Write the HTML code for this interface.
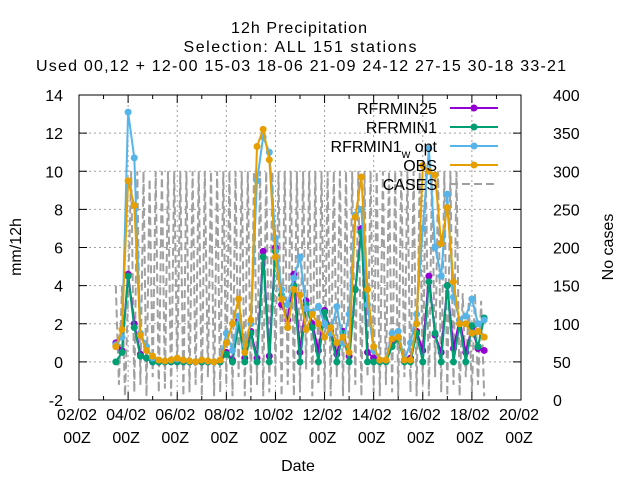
<!DOCTYPE html>
<html><head><meta charset="utf-8"><style>
body{margin:0;background:#fff}
svg{display:block;font-family:"Liberation Sans","DejaVu Sans",sans-serif}
</style></head><body>
<svg id="chart" width="640" height="480" xmlns="http://www.w3.org/2000/svg">
<rect width="640" height="480" fill="#fff"/>
<text x="299" y="33" font-size="16" text-anchor="middle" textLength="136">12h Precipitation</text>
<text x="300" y="52" font-size="16" text-anchor="middle" textLength="233">Selection: ALL     151 stations</text>
<text x="301" y="71" font-size="16" text-anchor="middle" textLength="530">Used  00,12  + 12-00 15-03 18-06 21-09 24-12 27-15 30-18 33-21</text>
<g id="grid"></g>
<g id="cases"></g>
<g id="series"></g>
<g id="axes"></g>
<g id="legend"></g>
<text x="298" y="471" font-size="16" text-anchor="middle">Date</text>
<text transform="translate(21,247) rotate(-90)" font-size="16" text-anchor="middle">mm/12h</text>
<text transform="translate(613,247) rotate(-90)" font-size="16" text-anchor="middle">No cases</text>
</svg>
<script>
const xTickLabels = ["02/02","04/02","06/02","08/02","10/02","12/02","14/02","16/02","18/02","20/02"];
const yTicks = [-2,0,2,4,6,8,10,12,14];
const y2Ticks = [0,50,100,150,200,250,300,350,400];
// precipitation series sampled every 6h starting at offset 1.5 days after 02/02 00Z
const startOffset = 1.5;
const stepDays = 0.25;
const obs = [0.8,1.7,9.5,8.2,1.4,0.6,0.3,0.1,0.05,0.1,0.2,0.1,0.05,0.0,0.1,0.05,0.0,0.1,1.0,2.0,3.3,0.5,2.2,11.3,12.2,10.6,5.5,3.3,1.8,3.8,3.5,1.7,2.5,2.0,1.3,1.8,1.0,1.3,0.5,7.6,9.7,3.8,0.8,0.1,0.1,1.2,1.3,0.1,0.1,2.0,10.3,10.0,9.8,6.2,8.1,4.2,2.0,2.0,1.5,1.6,1.3];
const wopt = [0.9,1.3,13.1,10.7,1.5,0.8,0.2,0.1,0.05,0.1,0.15,0.1,0.05,0.0,0.1,0.05,0.0,0.1,1.5,0.6,2.4,0.9,2.0,9.5,11.8,11.0,6.5,3.8,3.0,4.4,5.5,2.8,2.6,2.9,2.0,1.5,2.9,1.0,2.5,7.7,8.0,3.0,0.6,0.1,0.1,1.5,1.6,0.1,1.0,2.5,7.0,11.2,6.0,4.5,8.8,3.4,2.2,2.4,3.3,2.0,2.2];
const rfrmin1 = [0.0,0.5,4.5,1.8,0.3,0.2,0.0,0.0,0.0,0.0,0.0,0.0,0.0,0.0,0.0,0.0,0.0,0.0,0.4,0.0,2.0,0.0,1.5,0.0,5.5,0.0,5.8,3.5,1.8,4.0,0.0,3.0,1.8,0.0,2.6,1.5,0.0,1.5,0.0,3.8,6.8,0.0,0.0,0.0,0.0,0.8,1.2,0.0,0.0,1.5,0.0,4.2,1.5,0.0,4.0,0.0,2.0,0.0,1.9,0.8,2.3];
const rfrmin25 = [1.0,0.6,4.6,2.0,0.4,0.2,0.0,0.0,0.0,0.0,0.0,0.0,0.0,0.0,0.0,0.0,0.0,0.0,0.5,0.1,2.2,0.2,1.6,0.2,5.8,0.3,6.0,3.0,2.2,4.6,0.5,3.2,2.0,0.6,2.7,1.6,0.4,1.6,0.3,3.8,7.0,0.5,0.2,0.1,0.1,1.0,1.3,0.1,0.2,1.6,0.6,4.5,1.4,0.5,4.0,0.7,2.2,0.5,1.8,0.7,0.6];
// cases sampled every 3h starting at offset 1.5
const casesStep = 0.125;
const cases = [
150,20,150,5,140,300,10,300,
20,300,5,290,30,300,10,300,
15,300,5,300,40,300,5,300,
10,300,20,300,5,300,30,300,
5,300,10,300,20,300,5,300,
30,300,5,300,10,300,20,300,
5,300,10,300,30,300,5,300,
20,300,5,300,10,300,40,300,
5,300,20,300,10,300,5,300,
30,300,5,300,10,300,20,300,
5,300,30,300,10,300,5,300,
20,300,10,300,5,300,30,300,
10,300,5,300,20,300,5,300,
30,300,10,300,5,300,20,300,
5,140,30,130,10,140,20,130,
5];

const L=79,R=521,T=95,B=400;
const xs=d=>L+(R-L)*d/18;
const ys=v=>B-(B-T)*(v+2)/16;
const y2s=v=>B-(B-T)*v/400;
const NS="http://www.w3.org/2000/svg";
function mk(tag,attrs,parent){const e=document.createElementNS(NS,tag);for(const k in attrs)e.setAttribute(k,attrs[k]);parent.appendChild(e);return e;}
const grid=document.getElementById('grid'),axes=document.getElementById('axes'),ser=document.getElementById('series'),cg=document.getElementById('cases'),lg=document.getElementById('legend');

xTickLabels.forEach((lab,i)=>{
  const x=xs(i*2);
  if(i>0&&i<9){const g=mk('line',{x1:x,x2:x,y1:T,y2:B,stroke:'#a0a0a0','stroke-width':1,'stroke-dasharray':'2,3'},grid);
  
  }
  const t1=mk('text',{x:x-2,y:420,'font-size':16,'text-anchor':'middle'},axes);t1.textContent=lab;
  
  
  const t2=mk('text',{x:x-2,y:443,'font-size':16,'text-anchor':'middle'},axes);t2.textContent='00Z';
  
  
});
for(let d=0;d<=18;d++){const x=xs(d);const len=d%2?4:8;
  mk('line',{x1:x,x2:x,y1:B,y2:B-len,stroke:'#000'},axes);mk('line',{x1:x,x2:x,y1:T,y2:T+len,stroke:'#000'},axes);}
yTicks.forEach(v=>{const y=ys(v);
  if(v>-2&&v<14){const g=mk('line',{x1:L,x2:R,y1:y,y2:y,stroke:'#a0a0a0','stroke-width':1,'stroke-dasharray':'2,3'},grid);
  
  }
  mk('line',{x1:L,x2:L+8,y1:y,y2:y,stroke:'#000'},axes);
  const t=mk('text',{x:63,y:y+6,'font-size':16,'text-anchor':'end'},axes);t.textContent=v;
  
  
});
y2Ticks.forEach(v=>{const y=y2s(v);
  mk('line',{x1:R,x2:R-8,y1:y,y2:y,stroke:'#000'},axes);
  const t=mk('text',{x:553,y:y+6,'font-size':16,'text-anchor':'start'},axes);t.textContent=v;
  
  
});
const frame=mk('rect',{x:L,y:T,width:R-L,height:B-T,fill:'none',stroke:'#000','stroke-width':1},axes);



const cp=cases.map((v,i)=>xs(startOffset+i*casesStep).toFixed(1)+','+y2s(v).toFixed(1)).join(' ');
const cl=mk('polyline',{points:cp,fill:'none',stroke:'#a0a0a0','stroke-width':2,'stroke-dasharray':'8,4'},cg);



const seriesDefs=[['rfrmin25',rfrmin25,'#9400d3'],['rfrmin1',rfrmin1,'#009e73'],['rfrmin1-wopt',wopt,'#56b4e9'],['obs',obs,'#e69f00']];
seriesDefs.forEach(([name,arr,col])=>{
  const g=mk('g',{},ser);
  
  
  const pts=arr.map((v,i)=>[xs(startOffset+i*stepDays),ys(v)]);
  mk('polyline',{points:pts.map(p=>p[0].toFixed(1)+','+p[1].toFixed(1)).join(' '),fill:'none',stroke:col,'stroke-width':2},g);
  pts.forEach(p=>{const c=mk('circle',{cx:p[0],cy:p[1],r:3.5,fill:col},g);
    
    });
});

const legendEntries=[['RFRMIN25','#9400d3',false],['RFRMIN1','#009e73',false],['RFRMIN1w','#56b4e9',false],['OBS','#e69f00',false],['CASES','#a0a0a0',true]];
legendEntries.forEach(([lab,col,dash],i)=>{
  const y=108+i*19;
  const g=mk('g',{},lg);
  
  
  const t=mk('text',{x:437,y:y+6,'font-size':16,'text-anchor':'end'},g);
  if(lab==='RFRMIN1w'){t.innerHTML='RFRMIN1<tspan font-size="12" dy="6">w</tspan><tspan dy="-6"> opt</tspan>';}
  else t.textContent=lab;
  if(dash) mk('line',{x1:450,x2:498,y1:y,y2:y,stroke:col,'stroke-width':2,'stroke-dasharray':'8,4'},g);
  else {mk('line',{x1:450,x2:498,y1:y,y2:y,stroke:col,'stroke-width':2},g);mk('circle',{cx:474,cy:y,r:3.5,fill:col},g);}
});
</script>
</body></html>
